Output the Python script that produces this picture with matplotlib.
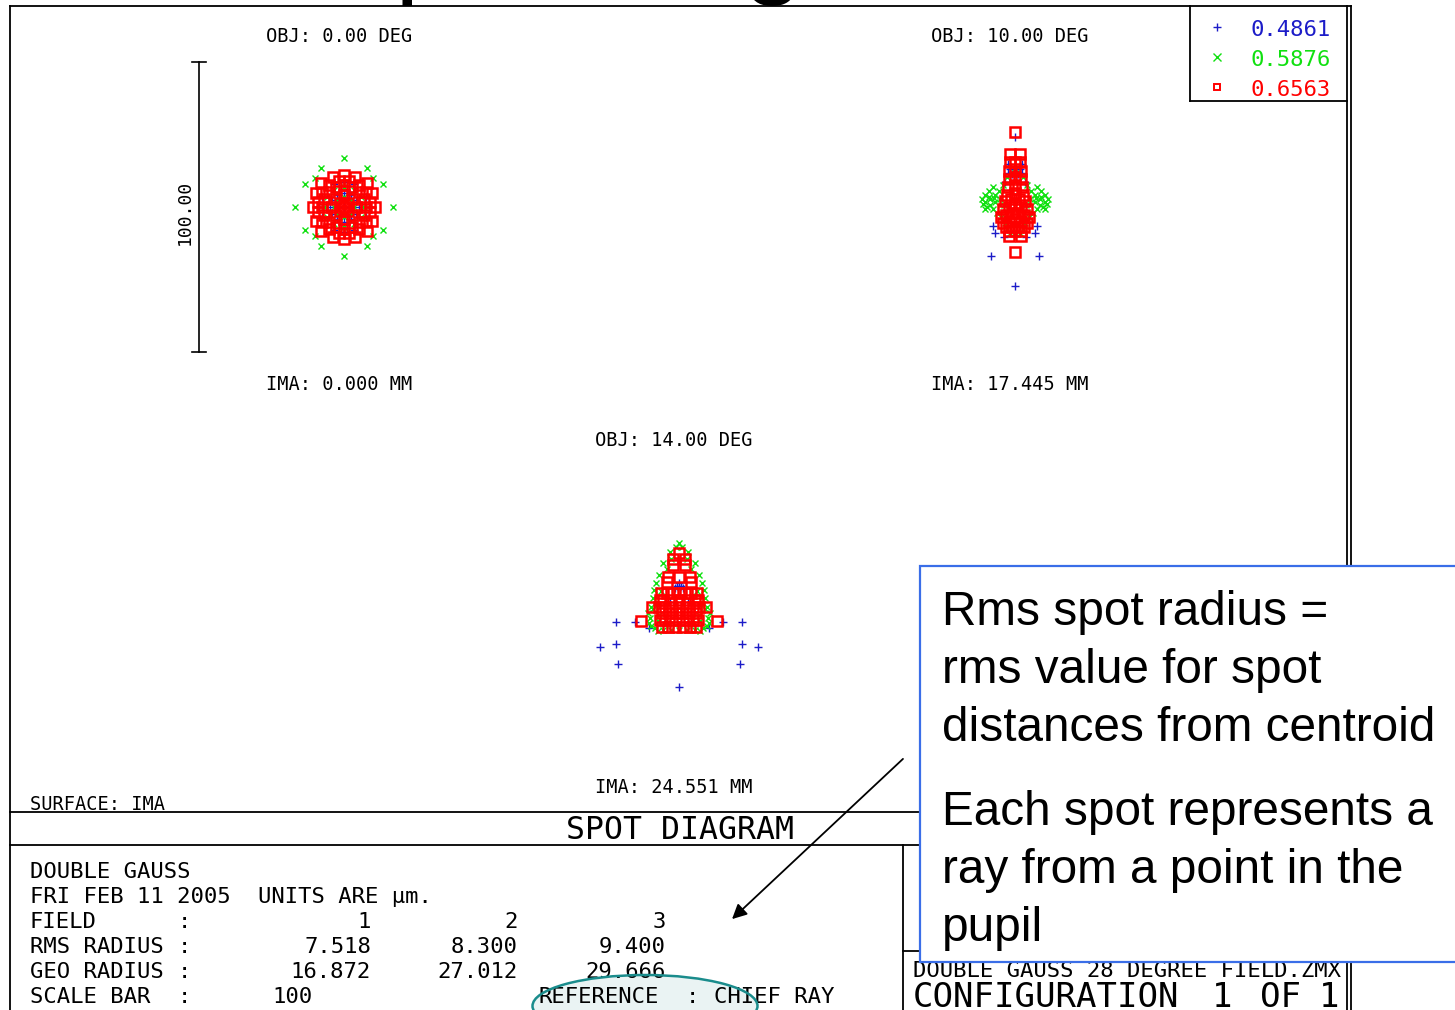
import numpy as np
import matplotlib
matplotlib.use("Agg")
import matplotlib.pyplot as plt
from matplotlib.patches import Rectangle, Ellipse

# spot data, micrometres from the spot centre (right half, mirrored about x = 0)
f1_blue = [(0, 8.6), (3.5, 7.9), (7.6, 3.6), (8.6, 0), (7.6, -3.6), (3.5, -7.9), (0, -8.6),
           (0, 5), (2.5, 4.3), (4.3, 2.5), (5, 0), (4.3, -2.5), (2.5, -4.3), (0, -5),
           (0, 2), (2, 0), (0, -2), (0, 0)]
f1_green = [(0, 16.9), (7.9, 13.4), (10, 10), (13.4, 7.9), (16.9, 0), (13.4, -7.9), (10, -10),
            (7.9, -13.4), (0, -16.9), (0, 7), (3.6, 6), (6, 3.6), (7, 0), (6, -3.6), (3.6, -6),
            (0, -7), (0, 3.5), (3.5, 0), (0, -3.5), (2.5, 2.5), (2.5, -2.5)]
f1_red = [(0, 11), (3.8, 10.3), (7.9, 8.3), (9.7, 4.8), (10.7, 0), (9.7, -4.8), (7.9, -8.3),
          (3.8, -10.3), (0, -11), (1.8, 9.1), (5.2, 7.7), (7.7, 5.2), (9.1, 1.8), (9.1, -1.8),
          (7.7, -5.2), (5.2, -7.7), (1.8, -9.1), (0, 7.5), (2.9, 6.9), (5.3, 5.3), (6.9, 2.9),
          (7.5, 0), (6.9, -2.9), (5.3, -5.3), (2.9, -6.9), (0, -7.5), (0, 4), (2.8, 2.8),
          (4, 0), (2.8, -2.8), (0, -4), (0, 0), (1.5, 1.5), (1.5, -1.5)]

f2_blue = [(0, 24.1), (2.4, 14.8), (3.4, 8.6), (7.6, -6.6), (6.9, -9), (3.8, -10.3),
           (8.3, -16.9), (0, -27.2), (1.7, 13.1), (0, 13.8), (1, 11.4), (2.4, 11.7)]
f2_green = [(0, 11.7), (2.8, 10.3), (4.1, 7.6), (5.5, 5.5), (6.9, 4.1), (8.6, 2.8), (10.3, 1.7),
            (11.4, 2.8), (10.3, 4.1), (9, 5.5), (7.6, 6.9), (9.7, 0), (7.6, -0.7), (6.2, -2.1),
            (4.8, -3.4), (3.4, -5.5), (2.8, -7.6), (1.7, -9), (8.6, 0.7), (10.3, -0.7),
            (6.9, 1.7), (5.2, 2.8), (3.8, 0.7), (11, 1), (9, 3.4), (7.2, 3.1)]
f2_red = [(0, 25.9), (1.7, 18.3), (0, 15.5), (1.7, 15.5), (0, 13.1), (2.1, 12.4), (0, 10.3),
          (2.1, 9.7), (0, 7.6), (2.4, 6.9), (0, 4.8), (2.8, 4.1), (1.4, 2.8), (3.4, 2.1),
          (0, 0.7), (2.1, 0), (4.1, -0.7), (1, -2.1), (3.1, -2.8), (4.8, -3.4), (0, -4.1),
          (2.1, -4.8), (4.1, -5.5), (1, -6.9), (3.1, -6.9), (0, -8.3), (2.1, -8.3),
          (2.1, -10), (0, -15.5)]

f3_blue = [(21.7, -5.2), (15.2, -5.2), (27.2, -13.8), (21.7, -12.8), (21, -19.7), (0, -27.6),
           (10.3, -7.2), (0, 8.3), (0.7, 7.2), (3.1, 1.7), (1.5, 6.5)]
f3_green = [(0, 22.1), (3.1, 19), (5.5, 15.2), (7.9, 8.3), (9, 3.1), (10, -3.8), (8.3, -7.2),
            (5.5, -7.9), (2.8, -7.9), (0, -7.9), (4.1, 13.1), (2.8, 16.6), (6.9, 11),
            (6.2, 5.5), (7.6, 0.7), (6.9, -2.8), (4.1, -5.5), (9, -0.7), (7.2, -4.8), (1, 20.7),
            (9.7, 0), (10.3, -5.5), (9.7, -6.5), (8.6, 6), (7.2, -8.3), (10.7, -2)]
f3_red = [(0, 18.6), (2.1, 16.6), (2.1, 14.5), (0, 10.3), (3.8, 10.3), (4.1, 8.6), (0, 4.8),
          (2.1, 4.8), (4.1, 4.8), (6.2, 4.8), (0, 2.4), (2.8, 2.4), (5.5, 2.4), (6.6, 2.4),
          (0, 0), (2.4, 0), (4.8, 0), (6.9, 0), (1, -2.1), (3.4, -2.1), (5.9, -2.1), (0, -4.5),
          (2.4, -4.5), (4.8, -4.5), (6.6, -4.5), (1.4, -6.9), (3.8, -6.9), (5.9, -6.9),
          (13.1, -4.8), (9.3, 0)]

wavelengths = ["0.4861", "0.5876", "0.6563"]
field_obj = ["0.00", "10.00", "14.00"]
field_ima = ["0.000", "17.445", "24.551"]
fields = [1, 2, 3]
rms_radius = [7.518, 8.300, 9.400]
geo_radius = [16.872, 27.012, 29.666]
scale_bar = 100

colors = ["#1c1cc8", "#10e010", "#ff0000"]
mono = "DejaVu Sans Mono"
W, H = 1455, 1010
PX_PER_UM = 2.9
HALF = 55


def mirror(pts):
    pts = np.array(pts, dtype=float)
    side = pts[pts[:, 0] > 0] * [-1, 1]
    return np.vstack([pts, side])


def spot(ax, pts, i):
    p = mirror(pts)
    if i == 0:
        ax.plot(p[:, 0], p[:, 1], "+", color=colors[0], ms=5.5, mew=1.0, clip_on=False)
    elif i == 1:
        ax.plot(p[:, 0], p[:, 1], "x", color=colors[1], ms=5, mew=1.0, clip_on=False)
    else:
        ax.plot(p[:, 0], p[:, 1], "s", mec=colors[2], mfc="none", ms=6.5, mew=1.8, clip_on=False)


fig = plt.figure(figsize=(W / 100, H / 100), dpi=100)
bg = fig.add_axes([0, 0, 1, 1])
bg.set_xlim(0, W)
bg.set_ylim(H, 0)
bg.axis("off")

# cut-off slide title at the very top
bg.text(322, -17, "Spot Diagram", fontsize=79, family="Liberation Sans", va="baseline")

# frame
k = dict(color="black", lw=1.3)
bg.plot([10, 1351], [6, 6], **k)
bg.plot([10, 10], [6, 1010], **k)
bg.plot([1347, 1347], [6, 1010], **k)
bg.plot([1351, 1351], [6, 1010], **k)
bg.plot([1190, 1190], [6, 101], **k)
bg.plot([1190, 1347], [101, 101], **k)
bg.plot([10, 1347], [812, 812], **k)
bg.plot([10, 1347], [845, 845], **k)
bg.plot([903, 903], [845, 1010], **k)
bg.plot([903, 1347], [951, 951], **k)

# spot diagrams
centres = [(344, 207), (1015, 207), (679, 607)]
data = [(f1_blue, f1_green, f1_red), (f2_blue, f2_green, f2_red), (f3_blue, f3_green, f3_red)]
axes = []
for (cx, cy), sets in zip(centres, data):
    hp = HALF * PX_PER_UM
    ax = fig.add_axes([(cx - hp) / W, 1 - (cy + hp) / H, 2 * hp / W, 2 * hp / H])
    ax.set_xlim(-HALF, HALF)
    ax.set_ylim(-HALF, HALF)
    ax.axis("off")
    for i, pts in enumerate(sets):
        spot(ax, pts, i)
    axes.append(ax)

# scale bar
sb = axes[0]
sb.plot([-50, -50], [-scale_bar / 2, scale_bar / 2], color="black", lw=1.2, clip_on=False)
sb.plot([-52.4, -47.6], [scale_bar / 2] * 2, color="black", lw=1.2, clip_on=False)
sb.plot([-52.4, -47.6], [-scale_bar / 2] * 2, color="black", lw=1.2, clip_on=False)
bg.text(185, 212, "%.2f" % scale_bar, rotation=90, family=mono, fontsize=13,
        ha="center", va="center")

label_pos = [(339, 42, 390), (1010, 42, 390), (674, 446, 793)]
for (lx, ty, by), o, m in zip(label_pos, field_obj, field_ima):
    bg.text(lx, ty, "OBJ: %s DEG" % o, family=mono, fontsize=13.4, ha="center", va="baseline")
    bg.text(lx, by, "IMA: %s MM" % m, family=mono, fontsize=13.4, ha="center", va="baseline")

# legend
legend_marks = ["+", "x", "s"]
for i, (wl, c) in enumerate(zip(wavelengths, colors)):
    y = 27 + 30 * i
    if legend_marks[i] == "s":
        bg.plot(1217, y, "s", mec=c, mfc="none", ms=4.5, mew=1.4)
    else:
        bg.plot(1217, y, legend_marks[i], color=c, ms=5.5, mew=1.0)
    bg.text(1250, y + 9, wl, color=c, family=mono, fontsize=16, va="baseline")

bg.text(30, 810, "SURFACE: IMA", family=mono, fontsize=13.4, va="baseline")
bg.text(680, 839, "SPOT DIAGRAM", family=mono, fontsize=22.7, ha="center", va="baseline")

# info block
t = dict(family=mono, fontsize=16, va="baseline")
bg.text(30, 878, "DOUBLE GAUSS", **t)
bg.text(30, 903, "FRI FEB 11 2005", **t)
bg.text(258, 903, "UNITS ARE µm.", **t)
rows = [("FIELD", [str(f) for f in fields]),
        ("RMS RADIUS", ["%.3f" % v for v in rms_radius]),
        ("GEO RADIUS", ["%.3f" % v for v in geo_radius])]
col_right = [371, 518, 666]
for r, (name, vals) in enumerate(rows):
    y = 928 + 25 * r
    bg.text(30, y, name, **t)
    bg.text(184, y, ":", ha="center", **t)
    for xr, v in zip(col_right, vals):
        bg.text(xr, y, v, ha="right", **t)
bg.text(30, 1003, "SCALE BAR", **t)
bg.text(184, 1003, ":", ha="center", **t)
bg.text(272, 1003, str(scale_bar), **t)
bg.text(539, 1003, "REFERENCE", **t)
bg.text(692, 1003, ":", ha="center", **t)
bg.text(714, 1003, "CHIEF RAY", **t)

bg.text(913, 977, "DOUBLE GAUSS 28 DEGREE FIELD.ZMX", **t)
cfg = dict(family=mono, fontsize=24.5, va="baseline")
bg.text(913, 1007, "CONFIGURATION", **cfg)
bg.text(1222, 1007, "1", ha="center", **cfg)
bg.text(1280, 1007, "OF", ha="center", **cfg)
bg.text(1329, 1007, "1", ha="center", **cfg)

# highlight ellipse round the reference line
bg.add_patch(Ellipse((645, 1006), 225, 62, facecolor="#dcecec", edgecolor="none",
                     alpha=0.6, zorder=1))
bg.add_patch(Ellipse((645, 1006), 225, 62, facecolor="none", edgecolor="#1a8c8c",
                     lw=1.8, zorder=5))

# callout
bg.annotate("", xy=(730, 921), xytext=(905, 757),
            arrowprops=dict(arrowstyle="-|>", color="black", lw=1.3, mutation_scale=22))
bg.add_patch(Rectangle((920, 566), 600, 396, facecolor="white", edgecolor="#3a6ee8",
                       lw=1.6, zorder=6))
callout = ["Rms spot radius =", "rms value for spot", "distances from centroid",
           "Each spot represents a", "ray from a point in the", "pupil"]
base = [625, 683, 741, 825, 883, 941]
for s, y in zip(callout, base):
    bg.text(942, y, s, family="Liberation Sans", fontsize=34.4, va="baseline", zorder=7)

fig.savefig("out.png", dpi=100)
